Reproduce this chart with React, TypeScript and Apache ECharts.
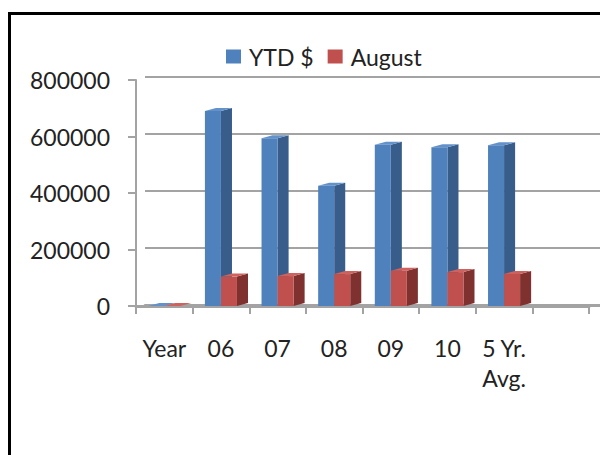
import React, { useEffect, useRef } from "react";
import * as echarts from "echarts";

const categories = ["Year", "06", "07", "08", "09", "10", "5 Yr.\nAvg.", ""];
const ytdValues = [0, 690000, 594000, 426000, 571000, 562000, 568600];
const augustValues = [0, 104000, 106000, 113000, 125000, 120000, 113600];
const yTicks = [0, 200000, 400000, 600000, 800000];

const FONT = "Lato";
const GRAY = "#a3a3a3";

function make3DRenderer(side: "left" | "right", front: string, dark: string, light: string) {
  return (params: any, api: any) => {
    const idx = api.value(0);
    const v = api.value(1);
    const top = api.coord([idx, v]);
    const base = api.coord([idx, 0]);
    const band = api.size([1, 0])[0];
    const w = band * 0.283;
    const dx = band * 0.195;
    const dy = 3;
    const x0 = side === "left" ? top[0] - w : top[0];
    const x1 = x0 + w;
    const yTop = top[1];
    const yBase = base[1];
    return {
      type: "group",
      children: [
        {
          type: "polygon",
          shape: { points: [[x1, yTop], [x1 + dx, yTop - dy], [x1 + dx, yBase - dy], [x1, yBase]] },
          style: { fill: dark },
        },
        {
          type: "polygon",
          shape: { points: [[x0, yTop], [x0 + dx, yTop - dy], [x1 + dx, yTop - dy], [x1, yTop]] },
          style: { fill: light },
        },
        {
          type: "rect",
          shape: { x: x0, y: yTop, width: w, height: Math.max(0, yBase - yTop) },
          style: { fill: front },
        },
      ],
    };
  };
}

export default function App() {
  const ref = useRef<HTMLDivElement>(null);
  useEffect(() => {
    if (!ref.current) return;
    const chart = echarts.init(ref.current, null, { renderer: "svg" });
    chart.setOption({
      animation: false,
      backgroundColor: "#ffffff",
      textStyle: { fontFamily: FONT },
      legend: {
        left: 221,
        top: 40,
        itemWidth: 15,
        itemHeight: 14,
        itemGap: 14,
        icon: "rect",
        data: ["YTD $", "August"],
        textStyle: { fontFamily: FONT, fontSize: 23, color: "#222", padding: [0, 0, 0, 3] },
      },
      grid: [
        { left: 136, top: 80, width: 453, height: 226 },
        { left: 145, top: 77, right: 0, height: 228 },
      ],
      xAxis: [
        {
          type: "category",
          gridIndex: 0,
          data: categories,
          axisLine: { lineStyle: { color: GRAY, width: 3 } },
          axisTick: { show: true, length: 8, lineStyle: { color: GRAY, width: 2 } },
          axisLabel: {
            interval: 0,
            margin: 27,
            fontFamily: FONT,
            fontSize: 23,
            lineHeight: 30,
            color: "#222",
            align: "center",
          },
        },
        {
          type: "category",
          gridIndex: 1,
          data: categories,
          axisLine: { lineStyle: { color: GRAY, width: 3 } },
          axisTick: { show: false },
          axisLabel: { show: false },
        },
      ],
      yAxis: [
        {
          type: "value",
          gridIndex: 0,
          min: 0,
          max: 800000,
          interval: 200000,
          axisLine: { show: true, lineStyle: { color: GRAY, width: 2 } },
          axisTick: { show: true, length: 8, lineStyle: { color: GRAY, width: 2 } },
          splitLine: { show: false },
          axisLabel: {
            margin: 26,
            fontFamily: FONT,
            fontSize: 23,
            color: "#222",
            formatter: (v: number) => (yTicks.includes(v) ? String(v) : ""),
          },
        },
        {
          type: "value",
          gridIndex: 1,
          min: 0,
          max: 800000,
          interval: 200000,
          axisLine: { show: false },
          axisTick: { show: false },
          axisLabel: { show: false },
          splitLine: { show: true, lineStyle: { color: GRAY, width: 2 } },
        },
      ],
      series: [
        {
          name: "YTD $",
          type: "custom",
          xAxisIndex: 0,
          yAxisIndex: 0,
          itemStyle: { color: "#4F81BD" },
          encode: { x: 0, y: 1 },
          renderItem: make3DRenderer("left", "#4F81BD", "#385D8A", "#6392CB"),
          data: ytdValues.map((v, i) => [i, v]),
        },
        {
          name: "August",
          type: "custom",
          xAxisIndex: 0,
          yAxisIndex: 0,
          itemStyle: { color: "#C0504D" },
          encode: { x: 0, y: 1 },
          renderItem: make3DRenderer("right", "#C0504D", "#7E312F", "#CD625F"),
          data: augustValues.map((v, i) => [i, v]),
        },
      ],
      graphic: [
        {
          type: "rect",
          shape: { x: 9.5, y: 13.5, width: 700, height: 600 },
          style: { fill: "none", stroke: "#000", lineWidth: 3 },
          z: 100,
        },
      ],
    });
    return () => chart.dispose();
  }, []);
  return <div ref={ref} style={{ position: "absolute", left: 0, top: 0, width: 600, height: 455 }} />;
}
